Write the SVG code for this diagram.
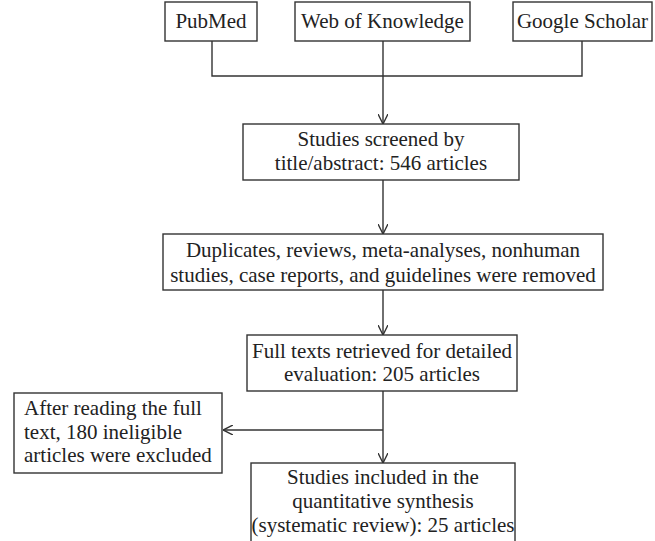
<svg xmlns="http://www.w3.org/2000/svg" width="655" height="541" viewBox="0 0 655 541">
<style>
.box{fill:#fff;stroke:#333;stroke-width:1.4}
.t{font-family:"Liberation Serif","Times New Roman",serif;font-size:21px;fill:#222}
.c{text-anchor:middle}
.ln{fill:none;stroke:#333;stroke-width:1.4}
</style>
<defs>
<marker id="ah" viewBox="0 0 10 10" refX="10" refY="5" markerWidth="10" markerHeight="10" markerUnits="userSpaceOnUse" orient="auto">
<polyline points="0,0 10,5 0,10" fill="none" stroke="#333" stroke-width="1.4"/>
</marker>
</defs>
<rect width="655" height="541" fill="#fff"/>
<g id="connectors">
<polyline class="ln" points="212,41 212,76 582,76 582,41"/>
<line class="ln" x1="383" y1="41" x2="383" y2="124" marker-end="url(#ah)"/>
<line class="ln" x1="383" y1="180" x2="383" y2="234" marker-end="url(#ah)"/>
<line class="ln" x1="383" y1="290" x2="383" y2="335" marker-end="url(#ah)"/>
<line class="ln" x1="383" y1="391" x2="383" y2="463" marker-end="url(#ah)"/>
<line class="ln" x1="383" y1="430" x2="223" y2="430" marker-end="url(#ah)"/>
</g>
<g id="pubmed">
<rect class="box" x="165" y="2" width="92" height="39"/>
<text class="t c" x="211" y="28">PubMed</text>
</g>
<g id="wok">
<rect class="box" x="295" y="2" width="175" height="39"/>
<text class="t c" x="382.5" y="28">Web of Knowledge</text>
</g>
<g id="scholar">
<rect class="box" x="513" y="2" width="139" height="39"/>
<text class="t c" x="582.5" y="28">Google Scholar</text>
</g>
<g id="screened">
<rect class="box" x="243" y="124" width="276" height="56"/>
<text class="t c" x="381" y="146">Studies screened by</text>
<text class="t c" x="381" y="170">title/abstract: 546 articles</text>
</g>
<g id="removed">
<rect class="box" x="163" y="234" width="440" height="56"/>
<text class="t c" x="383" y="257">Duplicates, reviews, meta-analyses, nonhuman</text>
<text class="t c" x="383" y="282">studies, case reports, and guidelines were removed</text>
</g>
<g id="fulltexts">
<rect class="box" x="247" y="335" width="270" height="56"/>
<text class="t c" x="382" y="358">Full texts retrieved for detailed</text>
<text class="t c" x="382" y="381">evaluation: 205 articles</text>
</g>
<g id="excluded">
<rect class="box" x="14" y="393" width="208" height="80"/>
<text class="t" x="24" y="415">After reading the full</text>
<text class="t" x="24" y="439">text, 180 ineligible</text>
<text class="t" x="24" y="462">articles were excluded</text>
</g>
<g id="included">
<rect class="box" x="251" y="463" width="264" height="90"/>
<text class="t c" x="383" y="484">Studies included in the</text>
<text class="t c" x="383" y="508">quantitative synthesis</text>
<text class="t c" x="383" y="532">(systematic review): 25 articles</text>
</g>
</svg>
